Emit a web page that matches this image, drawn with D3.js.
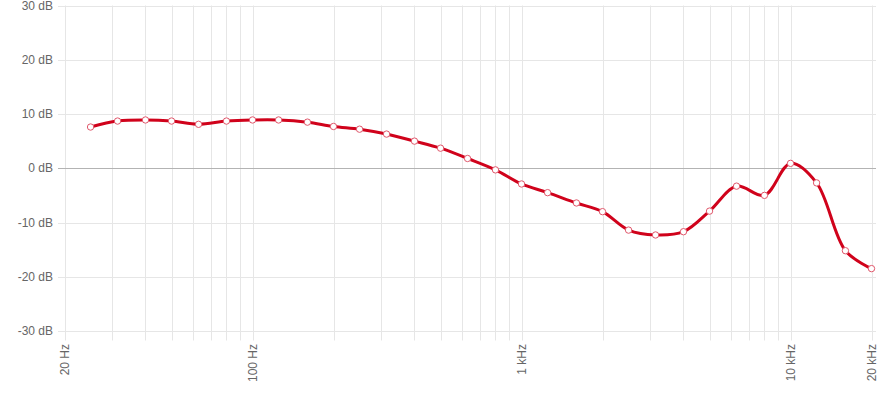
<!DOCTYPE html>
<html><head><meta charset="utf-8">
<script src="https://cdn.jsdelivr.net/npm/d3@7"></script>
<style>
html,body{margin:0;padding:0;background:#fff;}
svg{display:block;font-family:"Liberation Sans",Arial,Helvetica,sans-serif;}
</style></head>
<body><svg id="c" width="880" height="404"></svg>
<script>
const freqs = [25,31.5,40,50,63,80,100,125,160,200,250,315,400,500,630,800,1000,1250,1600,2000,2500,3150,4000,5000,6300,8000,10000,12500,16000,20000];
const gains = [7.6,8.7,8.9,8.7,8.1,8.7,8.9,8.9,8.5,7.7,7.2,6.3,5.0,3.7,1.8,-0.3,-2.9,-4.5,-6.4,-8.0,-11.4,-12.3,-11.7,-7.9,-3.3,-5.0,0.9,-2.7,-15.2,-18.5];
const yTicks = [30,20,10,0,-10,-20,-30];
const xGrid = [20,30,40,50,60,70,80,90,100,200,300,400,500,600,700,800,900,1000,2000,3000,4000,5000,6000,7000,8000,9000,10000,20000];
const xLabels = [[20,"20 Hz"],[100,"100 Hz"],[1000,"1 kHz"],[10000,"10 kHz"],[20000,"20 kHz"]];

const svg = d3.select("#c");
const x = d3.scaleLog().domain([20,20000]).range([64.5,871.5]);
const y = d3.scaleLinear().domain([-30,30]).range([331,5.5]);

const g = svg.append("g");
// vertical grid
g.selectAll(".vg").data(xGrid).join("line")
  .attr("x1",d=>Math.round(x(d))+0.5).attr("x2",d=>Math.round(x(d))+0.5)
  .attr("y1",5.5).attr("y2",340.5)
  .attr("stroke","#e6e6e6").attr("stroke-width",1);
// horizontal grid
g.selectAll(".hg").data(yTicks).join("line")
  .attr("x1",58).attr("x2",876)
  .attr("y1",d=>Math.round(y(d))+0.5).attr("y2",d=>Math.round(y(d))+0.5)
  .attr("stroke",d=>d===0?"#b3b3b3":"#e6e6e6").attr("stroke-width",1);
// y labels
g.selectAll(".yl").data(yTicks).join("text")
  .attr("x",53).attr("y",d=>y(d)).attr("dy","0.35em")
  .attr("text-anchor","end").attr("font-size",12).attr("fill","#666")
  .text(d=>d+" dB");
// x labels
g.selectAll(".xl").data(xLabels).join("text")
  .attr("transform",d=>`translate(${x(d[0])},344) rotate(-90)`)
  .attr("dy","0.35em").attr("text-anchor","end")
  .attr("font-size",12).attr("fill","#666")
  .text(d=>d[1]);

const pts = freqs.map((f,i)=>[x(f),y(gains[i])]);
const line = d3.line().curve(d3.curveCatmullRom.alpha(0.5));
svg.append("path").attr("d",line(pts)).attr("fill","none")
  .attr("stroke","#d0021b").attr("stroke-width",3);
svg.selectAll(".pt").data(pts).join("circle")
  .attr("cx",d=>d[0]).attr("cy",d=>d[1]).attr("r",3.2)
  .attr("fill","#fff").attr("stroke","#e0576b").attr("stroke-width",1);
</script></body></html>
